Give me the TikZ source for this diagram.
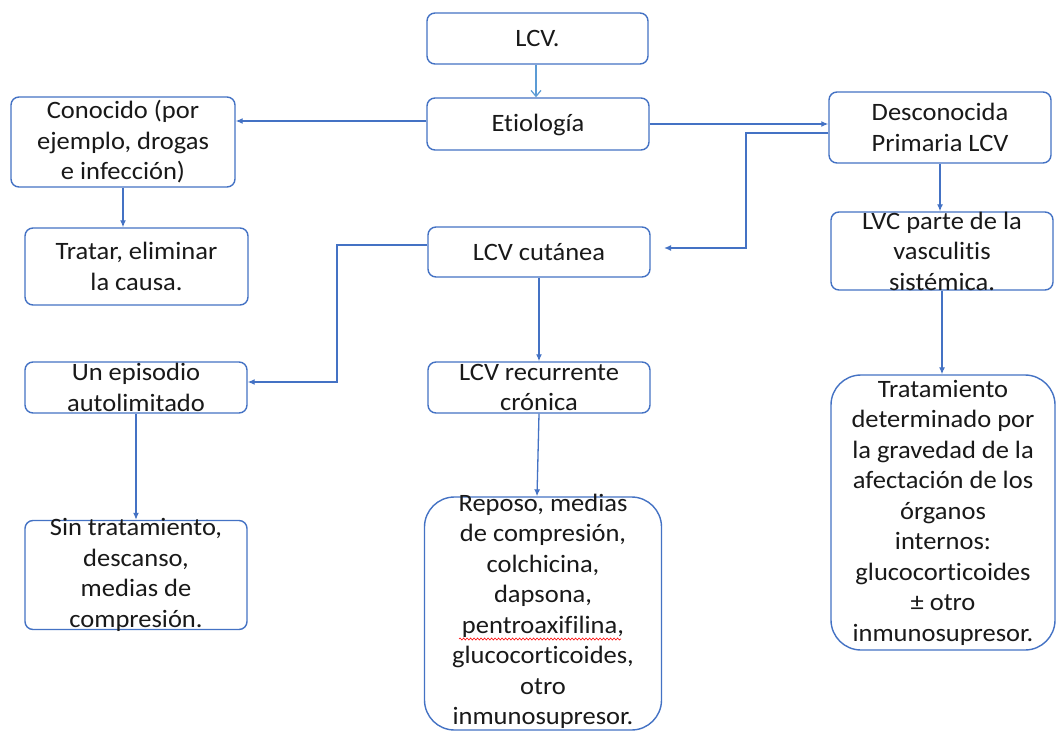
\documentclass[tikz,border=0pt]{standalone}
\usepackage{fontspec}
\setmainfont{Carlito}[FakeStretch=1.06, Ligatures={NoCommon}]
\usetikzlibrary{arrows.meta,decorations.pathmorphing}
\definecolor{ob}{HTML}{4472C4}
\definecolor{lb}{HTML}{5B9BD5}
\begin{document}
\begin{tikzpicture}[x=1pt,y=-1pt,
  box/.style={draw=ob, line width=1.4pt, rounded corners=8pt, inner sep=0pt, fill=white},
  bigbox/.style={box, rounded corners=30pt},
  txt/.style={align=center, inner sep=0pt, font=\fontsize{25}{30.5}\selectfont, text=black!90},
  conn/.style={draw=ob, line width=1.3pt, -{Latex[length=7pt,width=6pt]}},
  lconn/.style={draw=lb, line width=1.2pt, -{Straight Barb[length=6pt,width=10pt]}}]
\fill[white] (0,0) rectangle (1057,731);
\useasboundingbox (0,0) rectangle (1057,731);

% boxes
\node[box, minimum width=221pt, minimum height=51pt] (lcv) at (537.5,38.5) {};
\node[box, minimum width=222pt, minimum height=52pt] (etio) at (538,124) {};
\node[box, minimum width=224pt, minimum height=90pt] (con) at (123,142) {};
\node[box, minimum width=223pt, minimum height=77pt] (trat) at (136.5,266.5) {};
\node[box, minimum width=222pt, minimum height=71pt] (desc) at (940,127.5) {};
\node[box, minimum width=222pt, minimum height=78pt] (lvc) at (942,251) {};
\node[box, minimum width=222pt, minimum height=50pt] (cut) at (539,252) {};
\node[box, minimum width=222pt, minimum height=51pt] (epi) at (136,387.5) {};
\node[box, minimum width=222pt, minimum height=51pt] (rec) at (539,387.5) {};
\node[box, minimum width=222pt, minimum height=109pt] (sin) at (136,575) {};
\node[bigbox, minimum width=237pt, minimum height=233pt] (rep) at (543,613.5) {};
\node[bigbox, minimum width=224pt, minimum height=275pt] (trt) at (943,512.5) {};

% texts
\node[txt] (lcv-t) at (lcv) {LCV.};
\node[txt] (etio-t) at ([yshift=-1pt]etio.center) {Etiología};
\node[txt] (con-t) at (con) {Conocido (por\\ejemplo, drogas\\e infección)};
\node[txt] (trat-t) at (trat) {Tratar, eliminar\\la causa.};
\node[txt] (desc-t) at (desc) {Desconocida\\Primaria LCV};
\node[txt] (lvc-t) at (lvc) {LVC parte de la\\vasculitis\\sistémica.};
\node[txt] (cut-t) at (cut) {LCV cutánea};
\node[txt] (epi-t) at (epi) {Un episodio\\autolimitado};
\node[txt] (rec-t) at (rec) {LCV recurrente\\crónica};
\node[txt] (sin-t) at (sin) {Sin tratamiento,\\descanso,\\medias de\\compresión.};
\node[txt] (rep-t) at ([yshift=2pt]rep.center) {Reposo, medias\\de compresión,\\colchicina,\\dapsona,\\pentroaxifilina,\\glucocorticoides,\\otro\\inmunosupresor.};
\node[txt] (trt-t) at (trt) {Tratamiento\\determinado por\\la gravedad de la\\afectación de los\\órganos\\internos:\\glucocorticoides\\± otro\\inmunosupresor.};

% spell-check underline
\draw[red, line width=0.6pt, decorate, decoration={snake, amplitude=1pt, segment length=3.5pt}]
  (459,639) -- (621,639);

% connectors
\coordinate (cutin) at (664,248);
\draw[lconn] (lcv.south -| 536,0) -- (etio.north -| 536,0);
\draw[conn] (etio.west |- 0,121) -- (con.east |- 0,121);
\draw[conn] (etio.east) -- (desc.west |- etio.east);
\draw[conn] (desc.west |- 0,133) -- (746,133) -- (746,248) -- (cutin);
\draw[conn] (con.south) -- (con.south |- trat.north);
\draw[conn] (cut.west |- 0,245) -| (337,382) -- (epi.east |- 0,382);
\draw[conn] (cut.south) -- (rec.north);
\draw[conn] (epi.south) -- (sin.north -| epi.south);
\draw[conn] (rec.south) -- ([xshift=-2pt]rec.south |- rep.north);
\draw[conn] (desc.south) -- (lvc.north -| desc.south);
\draw[conn] (lvc.south) -- (trt.north -| lvc.south);
\end{tikzpicture}
\end{document}
